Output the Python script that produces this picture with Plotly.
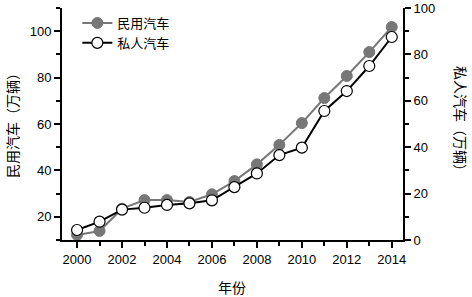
import plotly.graph_objects as go

years = list(range(2000, 2015))
civil = [12.2, 13.9, 23.5, 27.2, 27.2, 26.4, 29.7, 35.4, 42.6, 51.0, 60.4, 71.2, 80.7, 91.0, 101.8]
private = [4.3, 7.9, 13.1, 13.9, 15.1, 15.8, 17.1, 22.8, 28.7, 36.6, 39.8, 55.6, 64.2, 75.0, 87.5]

num_font = "Liberation Sans, Arial, sans-serif"
cjk_font = "Noto Sans CJK SC, sans-serif"

fig = go.Figure()
fig.add_trace(go.Scatter(
    x=years, y=civil, name="民用汽车", mode="lines+markers",
    line=dict(color="#777777", width=2),
    marker=dict(size=11, color="#777777", line=dict(color="#777777", width=1)),
    yaxis="y",
))
fig.add_trace(go.Scatter(
    x=years, y=private, name="私人汽车", mode="lines+markers",
    line=dict(color="#000000", width=2),
    marker=dict(size=11, color="#ffffff", line=dict(color="#000000", width=1.2)),
    yaxis="y2",
))

axis_common = dict(
    showgrid=False, zeroline=False, showline=True, linecolor="black", linewidth=2,
    ticks="outside", ticklen=6, tickwidth=1.5, tickcolor="black", automargin=False,
    tickfont=dict(family=num_font, size=13, color="black"),
)

pw = 472 - 62 - 69
ph = 297 - 8 - 57

fig.update_layout(
    template="none",
    width=472, height=297,
    margin=dict(l=62, r=69, t=8, b=57, autoexpand=False),
    plot_bgcolor="white", paper_bgcolor="white",
    showlegend=True,
    legend=dict(x=0.045, y=1.0, xanchor="left", yanchor="top",
                bgcolor="rgba(0,0,0,0)", font=dict(family=cjk_font, size=13, color="black"),
                tracegroupgap=0, itemwidth=30),
    xaxis=dict(range=[1999.33, 2014.5], dtick=2, tick0=2000,
               minor=dict(dtick=1, ticklen=4, tickwidth=1.5, tickcolor="black", ticks="outside"),
               **axis_common),
    yaxis=dict(range=[10, 110], dtick=20, tick0=0,
               minor=dict(dtick=10, tick0=0, ticklen=4, tickwidth=1.5, tickcolor="black", ticks="outside"),
               **axis_common),
    yaxis2=dict(range=[0, 100], dtick=20, tick0=0, overlaying="y", side="right",
                minor=dict(dtick=10, tick0=0, ticklen=4, tickwidth=1.5, tickcolor="black", ticks="outside"),
                **axis_common),
    annotations=[
        dict(text="年份", x=(232 - 62) / pw, y=(240 - 287) / ph, xref="paper", yref="paper",
             xanchor="center", yanchor="middle", showarrow=False,
             font=dict(family=cjk_font, size=14, color="black")),
        dict(text="民用汽车（万辆）", x=(12 - 62) / pw, y=(240 - 122) / ph, xref="paper", yref="paper",
             xanchor="center", yanchor="middle", showarrow=False, textangle=-90,
             font=dict(family=cjk_font, size=14, color="black")),
        dict(text="私人汽车（万辆）", x=(461 - 62) / pw, y=(240 - 122) / ph, xref="paper", yref="paper",
             xanchor="center", yanchor="middle", showarrow=False, textangle=90,
             font=dict(family=cjk_font, size=14, color="black")),
    ],
)

fig.write_html("out.html", config={"displayModeBar": False},
               post_script="document.body.style.margin='0';document.body.style.overflow='hidden';")
